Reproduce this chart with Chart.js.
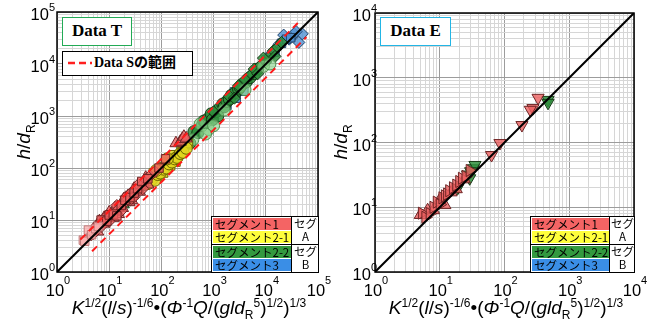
<!DOCTYPE html>
<html>
<head>
<meta charset="utf-8">
<script src="https://cdn.jsdelivr.net/npm/chart.js@4.4.0/dist/chart.umd.min.js"></script>
<style>
  body { margin: 0; background: #fff; }
  #wrap { position: relative; width: 656px; height: 324px; overflow: hidden; font-family: "Liberation Sans", Arial, sans-serif; }
  canvas { position: absolute; top: 0; }
  .xt { position: absolute; top: 298px; font-size: 19px; line-height: 20px; text-align: center; white-space: nowrap; }
  .xt sup, .xt sub { font-size: 12px; line-height: 0; }
  .yt { position: absolute; width: 70px; height: 22px; font-size: 19px; line-height: 22px; text-align: center; transform: rotate(-90deg); white-space: nowrap; }
  .yt sub { font-size: 12px; line-height: 0; }
  .tag { position: absolute; box-sizing: border-box; background: #fff; font-family: "Liberation Serif", "Noto Sans CJK JP", serif; font-weight: bold; white-space: nowrap; }
  .seg { position: absolute; box-sizing: border-box; border: 1.5px solid #000; background: #fff; font-family: "Noto Sans CJK JP", sans-serif; font-size: 11.5px; }
  .seg div { position: absolute; line-height: 13px; white-space: nowrap; }
</style>
</head>
<body>
<div id="wrap">
  <canvas id="chartT" width="336" height="324" style="left:0"></canvas>
  <canvas id="chartE" width="326" height="324" style="left:330px"></canvas>

  <div class="yt" style="left:-11px;top:131px;"><i>h</i>/<i>d</i><sub>R</sub></div>
  <div class="yt" style="left:306px;top:131px;"><i>h</i>/<i>d</i><sub>R</sub></div>
  <div class="xt" style="left:0;width:378px;"><i>K</i><sup>1/2</sup>(<i>l</i>/<i>s</i>)<sup>-1/6</sup>•(<i>Φ</i><sup>-1</sup><i>Q</i>/(<i>gld</i><sub>R</sub><sup>5</sup>)<sup>1/2</sup>)<sup>1/3</sup></div>
  <div class="xt" style="left:317px;width:378px;"><i>K</i><sup>1/2</sup>(<i>l</i>/<i>s</i>)<sup>-1/6</sup>•(<i>Φ</i><sup>-1</sup><i>Q</i>/(<i>gld</i><sub>R</sub><sup>5</sup>)<sup>1/2</sup>)<sup>1/3</sup></div>

  <div class="tag" style="left:62px;top:17px;width:70px;height:29px;border:1.5px solid #22aa55;font-size:17px;line-height:26px;text-align:center;">Data T</div>
  <div class="tag" style="left:62px;top:51px;width:131px;height:25px;border:1.5px solid #000;font-size:14px;line-height:22px;">
    <svg width="26" height="22" style="position:absolute;left:4px;top:0"><line x1="1" y1="11" x2="25" y2="11" stroke="#ff2020" stroke-width="2.5" stroke-dasharray="7,4"/></svg>
    <span style="position:absolute;left:31px;">Data Sの範囲</span>
  </div>
  <div class="tag" style="left:380px;top:17px;width:71px;height:29px;border:1.5px solid #22b5e5;font-size:17px;line-height:26px;text-align:center;">Data E</div>

  <div class="seg" style="left:211px;top:216px;width:108px;height:57px;">
    <div style="left:1px;top:1px;width:77px;height:12px;background:#f46464;padding-left:2px;">セグメント1</div>
    <div style="left:1px;top:14px;width:77px;height:12px;background:#ffff3c;padding-left:2px;">セグメント2-1</div>
    <div style="left:-1px;top:27px;width:107px;height:0;border-top:1.5px solid #000;"></div>
    <div style="left:1px;top:29px;width:77px;height:12px;background:#33993f;padding-left:2px;">セグメント2-2</div>
    <div style="left:1px;top:42px;width:77px;height:12px;background:#3a8ee6;padding-left:2px;">セグメント3</div>
    <div style="left:79px;top:-1px;width:0;height:56px;border-left:1.5px solid #000;"></div>
    <div style="left:81px;top:0;width:25px;text-align:center;">セグ<br>A</div>
    <div style="left:81px;top:28px;width:25px;text-align:center;">セグ<br>B</div>
  </div>
  <div class="seg" style="left:530px;top:216px;width:105px;height:57px;">
    <div style="left:1px;top:1px;width:76px;height:12px;background:#f46464;padding-left:2px;">セグメント1</div>
    <div style="left:1px;top:14px;width:76px;height:12px;background:#ffff3c;padding-left:2px;">セグメント2-1</div>
    <div style="left:-1px;top:27px;width:104px;height:0;border-top:1.5px solid #000;"></div>
    <div style="left:1px;top:29px;width:76px;height:12px;background:#33993f;padding-left:2px;">セグメント2-2</div>
    <div style="left:1px;top:42px;width:76px;height:12px;background:#3a8ee6;padding-left:2px;">セグメント3</div>
    <div style="left:78px;top:-1px;width:0;height:56px;border-left:1.5px solid #000;"></div>
    <div style="left:80px;top:0;width:23px;text-align:center;">セグ<br>A</div>
    <div style="left:80px;top:28px;width:23px;text-align:center;">セグ<br>B</div>
  </div>
</div>

<script>
// ---- Data T (left) ----
const T_PINK_X = [3.2, 3.4, 4.0, 4.6, 5.5, 6.2];
const T_PINK_Y = [4.1, 3.9, 6.4, 5.2, 6.8, 7.5];

const T_SEG1_TRI_X = [5, 6, 6.5, 7, 8, 8, 9.5, 10, 11, 12, 13, 14, 15, 16, 18, 19, 21, 23, 24, 27, 28, 30, 32, 38, 45, 50, 55, 190, 230, 250, 270, 300];
const T_SEG1_TRI_Y = [6.5, 6, 9.5, 9, 8.5, 11, 11, 14, 12.5, 11, 17, 15, 13, 18, 17, 25, 24, 29, 22, 24, 30, 40, 36, 35, 52, 65, 48, 300, 320, 360, 400, 370];
const T_SEG1_DIA_X = [4.5, 5, 5.5, 6, 7, 8.5, 9, 10, 11, 13, 14, 15, 17, 19, 21, 23, 26, 27, 30, 33, 36, 40, 44, 50, 60, 75];
const T_SEG1_DIA_Y = [5.2, 5.5, 7, 8, 7.5, 10, 12, 9.5, 13, 14, 19, 16, 15, 21, 28, 25, 33, 26, 28, 38, 48, 44, 40, 60, 70, 85];
const T_SEG1_SQ_X = [6, 7, 9, 10, 12, 14, 17, 20, 25, 30, 35, 42, 55, 90, 120];
const T_SEG1_SQ_Y = [7.5, 10, 9.5, 12.5, 13, 12, 19, 24, 27, 33, 40, 55, 62, 100, 150];

const T_SEG21_CIR_X = [55, 65, 75, 85, 95, 110, 125, 140, 160, 180, 200, 230, 260, 300, 80, 130];
const T_SEG21_CIR_Y = [50, 60, 58, 75, 80, 95, 100, 120, 130, 150, 160, 190, 200, 240, 90, 150];
const T_SEG21_SQ_X = [70, 90, 100, 120, 150, 170, 210, 250, 330, 110, 190];
const T_SEG21_SQ_Y = [80, 70, 105, 130, 110, 180, 170, 230, 300, 80, 130];

const T_SEG22_TRI_X = [18.6, 20, 25, 35, 39, 450];
const T_SEG22_TRI_Y = [20, 22, 28, 38, 43, 480];
const T_SEG22_CIR_X = [350, 420, 500, 600, 650, 700, 800, 900, 950, 1100, 1300, 1500, 1600, 1800, 2200, 2600, 3000, 3500, 4200, 5000, 6000, 7000, 1200, 2000, 3200];
const T_SEG22_CIR_Y = [300, 500, 480, 650, 800, 750, 900, 1100, 850, 1200, 1400, 1700, 1500, 1900, 2500, 2800, 3300, 4000, 4500, 5500, 6500, 8000, 1000, 2100, 3600];
const T_SEG22_LT_X = [250, 400, 550, 800, 1000, 1600, 4000, 9000, 12000, 700];
const T_SEG22_LT_Y = [260, 350, 700, 550, 650, 1300, 3200, 9000, 10000, 450];
const T_SEG22_DIA_X = [1000, 2000, 3000, 5000, 6000, 8000, 10000, 12000, 14000, 17000, 20000, 9000, 4000, 7000, 2500, 15000];
const T_SEG22_DIA_Y = [1200, 2400, 3800, 6000, 8000, 9500, 11000, 14000, 18000, 21000, 26000, 13000, 5000, 6500, 2200, 14000];

const T_SEG3_SQ_X = [1800, 2200, 2700, 3200, 3800, 4500, 10000, 15000, 20000, 25000, 30000, 1500, 2500];
const T_SEG3_SQ_Y = [1600, 2500, 2200, 3500, 3000, 5000, 12000, 17000, 25000, 30000, 32000, 1500, 2900];
const T_SEG3_DIA_X = [12000, 18000, 22000, 28000, 35000, 43000, 50000, 38000];
const T_SEG3_DIA_Y = [15000, 24000, 36000, 30000, 38000, 26000, 38000, 42000];

const T_RANGE_UP_X = [2.8, 41000];
const T_RANGE_UP_Y = [4.2, 61500];
const T_RANGE_LO_X = [4.7, 60000];
const T_RANGE_LO_Y = [2.5, 33000];

// ---- Data E (right) ----
const E_SEG1_DOWN_X = [330, 275, 250, 186, 85, 63];
const E_SEG1_DOWN_Y = [490, 340, 320, 186, 98, 64];
const E_SEG1_SIDE_X = [5.3, 6, 7, 8, 9, 10, 11, 12, 13, 14, 16, 18, 20, 22, 25, 29];
const E_SEG1_SIDE_Y = [8.1, 7, 8, 10, 12, 11, 14, 15, 16, 18, 20, 22, 25, 28, 30, 37];
const E_SEG1_UP_X = [5, 6.5, 8, 10, 12, 15, 18, 24];
const E_SEG1_UP_Y = [7.6, 9, 9, 13, 10.8, 17, 19, 27];
const E_SEG22_X = [470, 470, 33, 29, 19, 27, 35, 30];
const E_SEG22_Y = [455, 410, 40, 28, 20, 32, 45, 36];

const T_MAX_EXP = 5;
const E_MAX_EXP = 4;

function pts(xs, ys) { return xs.map((x, i) => ({ x: x, y: ys[i] })); }

function marks(xs, ys, style, fill, stroke, rot, r) {
  return {
    data: pts(xs, ys), pointStyle: style, rotation: rot || 0, pointRadius: r || 6,
    backgroundColor: fill, borderColor: stroke, borderWidth: 1, order: 2
  };
}

function line(xs, ys, color, dash) {
  return {
    data: pts(xs, ys), showLine: true, pointRadius: 0, borderColor: color,
    borderWidth: 2, borderDash: dash || [], order: 0
  };
}

const RED = 'rgba(236,96,96,0.8)', RED_B = '#6e2424';
const PINK = 'rgba(248,175,175,0.8)', PINK_B = '#c07a7a';
const YEL = 'rgba(225,215,30,0.85)', YEL_B = '#6d6400';
const GRN = 'rgba(48,145,62,0.85)', GRN_B = '#143a14';
const LGRN = 'rgba(140,210,140,0.65)', LGRN_B = '#4f8f4f';
const BLU = 'rgba(80,145,210,0.8)', BLU_B = '#24466e';

function isMajor(v) { const l = Math.log10(v); return Math.abs(l - Math.round(l)) < 1e-9; }

function ticksFor(maxExp) {
  const t = [];
  for (let e = 0; e < maxExp; e++) {
    for (let m = 1; m < 10; m++) t.push({ value: m * Math.pow(10, e) });
  }
  t.push({ value: Math.pow(10, maxExp) });
  return t;
}

const framePlugin = {
  id: 'frame',
  afterDraw(chart) {
    const a = chart.chartArea, c = chart.ctx, o = chart.options.plugins.frame;
    c.save();
    c.strokeStyle = '#000';
    c.lineWidth = 1.5;
    c.strokeRect(a.left, a.top, a.right - a.left, a.bottom - a.top);
    c.fillStyle = '#000';
    c.textBaseline = 'alphabetic';
    for (let e = 0; e <= o.maxExp; e++) {
      const v = Math.pow(10, e);
      c.font = '16.5px "Liberation Sans"';
      const w1 = c.measureText('10').width;
      c.font = '11px "Liberation Sans"';
      const w2 = c.measureText(String(e)).width;

      const px = chart.scales.x.getPixelForValue(v);
      let left = px - (w1 + w2) / 2 + 1;
      c.font = '16.5px "Liberation Sans"';
      c.fillText('10', left, a.bottom + 23.5);
      c.font = '11px "Liberation Sans"';
      c.fillText(String(e), left + w1, a.bottom + 12);

      const py = chart.scales.y.getPixelForValue(v);
      left = a.left - o.gap - w1 - w2;
      c.font = '16.5px "Liberation Sans"';
      c.fillText('10', left, py + 8);
      c.font = '11px "Liberation Sans"';
      c.fillText(String(e), left + w1, py - 1);
    }
    c.restore();
  }
};

function axis(maxExp, fit) {
  return {
    type: 'logarithmic', min: 1, max: Math.pow(10, maxExp),
    ticks: { display: false },
    border: { display: false },
    grid: {
      drawTicks: false, lineWidth: 1,
      color: ctx => (ctx.tick && isMajor(ctx.tick.value)) ? '#9c9c9c' : '#d6d6d6'
    },
    afterBuildTicks: s => { s.ticks = ticksFor(maxExp); },
    afterFit: fit
  };
}

function makeChart(id, datasets, maxExp, pad, yWidth, xHeight, gap) {
  return new Chart(document.getElementById(id), {
    type: 'scatter',
    data: { datasets: datasets },
    options: {
      responsive: false,
      animation: false,
      layout: { padding: pad, autoPadding: false },
      plugins: { legend: { display: false }, tooltip: { enabled: false }, frame: { maxExp: maxExp, gap: gap } },
      scales: {
        x: axis(maxExp, s => { s.height = xHeight; }),
        y: axis(maxExp, s => { s.width = yWidth; })
      }
    },
    plugins: [framePlugin]
  });
}

makeChart('chartT', [
  line([1, 1e5], [1, 1e5], '#000'),
  line(T_RANGE_UP_X, T_RANGE_UP_Y, '#ff1a1a', [7, 5]),
  line(T_RANGE_LO_X, T_RANGE_LO_Y, '#ff1a1a', [7, 5]),
  marks(T_PINK_X, T_PINK_Y, 'rect', PINK, PINK_B),
  marks(T_SEG1_SQ_X, T_SEG1_SQ_Y, 'rect', RED, RED_B),
  marks(T_SEG1_DIA_X, T_SEG1_DIA_Y, 'rectRot', RED, RED_B),
  marks(T_SEG1_TRI_X, T_SEG1_TRI_Y, 'triangle', RED, RED_B, 0, 7),
  marks(T_SEG21_CIR_X, T_SEG21_CIR_Y, 'circle', YEL, YEL_B),
  marks(T_SEG21_SQ_X, T_SEG21_SQ_Y, 'rect', YEL, YEL_B),
  marks(T_SEG22_LT_X, T_SEG22_LT_Y, 'circle', LGRN, LGRN_B),
  marks(T_SEG22_DIA_X, T_SEG22_DIA_Y, 'rectRot', GRN, GRN_B),
  marks(T_SEG22_CIR_X, T_SEG22_CIR_Y, 'circle', GRN, GRN_B),
  marks(T_SEG22_TRI_X, T_SEG22_TRI_Y, 'triangle', GRN, GRN_B, 0, 7),
  marks(T_SEG3_SQ_X, T_SEG3_SQ_Y, 'rect', BLU, BLU_B),
  marks(T_SEG3_DIA_X, T_SEG3_DIA_Y, 'rectRot', BLU, BLU_B)
], T_MAX_EXP, { left: 0, top: 12, right: 18, bottom: 0 }, 57, 52, 2);

makeChart('chartE', [
  line([1, 1e4], [1, 1e4], '#000'),
  marks(E_SEG1_SIDE_X, E_SEG1_SIDE_Y, 'triangle', RED, RED_B, 90, 7),
  marks(E_SEG1_UP_X, E_SEG1_UP_Y, 'triangle', RED, RED_B, 0, 7),
  marks(E_SEG1_DOWN_X, E_SEG1_DOWN_Y, 'triangle', RED, RED_B, 180, 7),
  marks(E_SEG22_X, E_SEG22_Y, 'triangle', GRN, GRN_B, 180, 7)
], E_MAX_EXP, { left: 0, top: 13, right: 22, bottom: 0 }, 45, 52, -2);
</script>
</body>
</html>
